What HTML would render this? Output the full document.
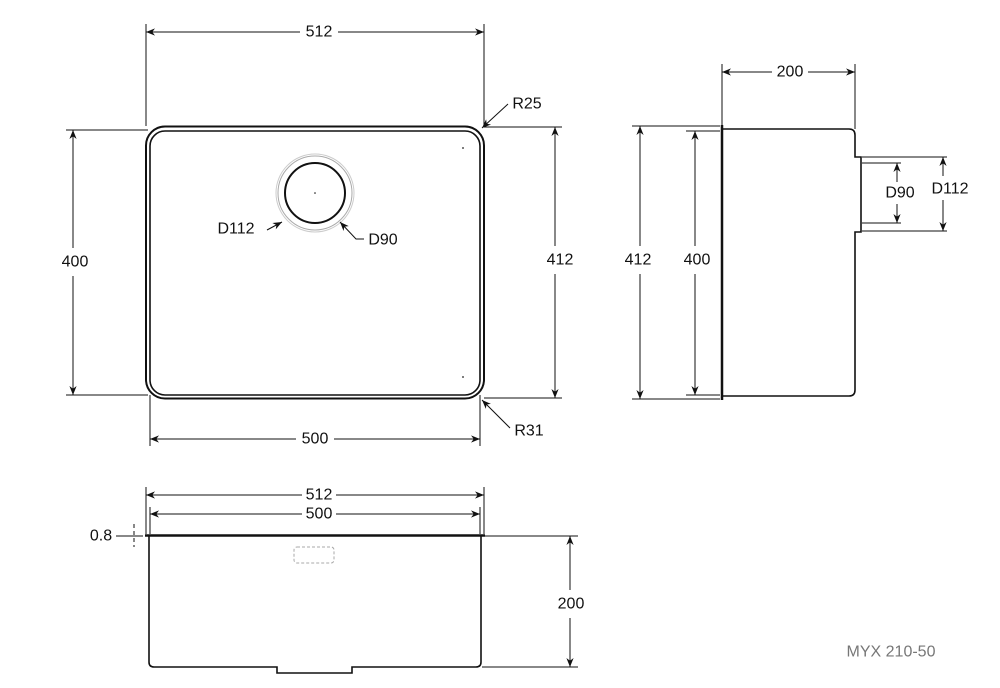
<!DOCTYPE html>
<html><head><meta charset="utf-8"><style>body{margin:0;background:#fff}svg{display:block}text{font-family:"Liberation Sans",Arial,sans-serif;font-size:16px;fill:#111}</style></head><body>
<svg width="1000" height="688" viewBox="0 0 1000 688" xmlns="http://www.w3.org/2000/svg">
<defs><marker id="a" viewBox="0 0 10 10" refX="10" refY="5" markerWidth="9" markerHeight="9" orient="auto-start-reverse" markerUnits="userSpaceOnUse"><path d="M0,1 L10,5 L0,9 L3,5 z" fill="#111"/></marker></defs>
<g stroke="#111" fill="none" stroke-width="1">
<rect x="146" y="126.5" width="338" height="272" rx="19" stroke-width="2"/>
<rect x="150" y="131" width="330" height="264" rx="15" stroke-width="1.6"/>
<circle cx="315" cy="193" r="30" stroke-width="2"/>
<circle cx="315" cy="193" r="37" stroke="#aaa"/>
<circle cx="315" cy="193" r="39" stroke="#ccc"/>
<line x1="146" y1="24" x2="146" y2="126"/><line x1="484" y1="24" x2="484" y2="126"/>
<line x1="146" y1="32" x2="300" y2="32" marker-start="url(#a)"/><line x1="338" y1="32" x2="484" y2="32" marker-end="url(#a)"/>
<line x1="66" y1="130" x2="148" y2="130"/><line x1="66" y1="395" x2="148" y2="395"/>
<line x1="73" y1="130" x2="73" y2="248" marker-start="url(#a)"/><line x1="73" y1="276" x2="73" y2="395" marker-end="url(#a)"/>
<line x1="484" y1="127" x2="562" y2="127"/><line x1="484" y1="398" x2="562" y2="398"/>
<line x1="555" y1="127" x2="555" y2="246" marker-start="url(#a)"/><line x1="555" y1="274" x2="555" y2="398" marker-end="url(#a)"/>
<line x1="150" y1="395" x2="150" y2="446"/><line x1="480" y1="395" x2="480" y2="446"/>
<line x1="150" y1="439" x2="296" y2="439" marker-start="url(#a)"/><line x1="334" y1="439" x2="480" y2="439" marker-end="url(#a)"/>
<line x1="508" y1="104" x2="482" y2="128" marker-end="url(#a)"/>
<line x1="510" y1="428" x2="482" y2="400" marker-end="url(#a)"/>
<line x1="267" y1="230" x2="282" y2="222" marker-end="url(#a)"/>
<polyline points="364,239 356,239 340,222" marker-end="url(#a)"/>
<line x1="722" y1="125" x2="722" y2="400" stroke-width="2.5"/>
<path d="M722,129 H849 Q855,129 855,135 V157 H861 V232 H855 V390 Q855,396 849,396 H722" stroke-width="1.6"/>
<line x1="722" y1="64" x2="722" y2="125"/><line x1="855" y1="64" x2="855" y2="129"/>
<line x1="722" y1="72" x2="772" y2="72" marker-start="url(#a)"/><line x1="808" y1="72" x2="855" y2="72" marker-end="url(#a)"/>
<line x1="632" y1="126" x2="720" y2="126"/><line x1="632" y1="399" x2="720" y2="399"/>
<line x1="640" y1="126" x2="640" y2="246" marker-start="url(#a)"/><line x1="640" y1="274" x2="640" y2="399" marker-end="url(#a)"/>
<line x1="686" y1="131" x2="720" y2="131"/><line x1="686" y1="395" x2="720" y2="395"/>
<line x1="695" y1="131" x2="695" y2="246" marker-start="url(#a)"/><line x1="695" y1="274" x2="695" y2="395" marker-end="url(#a)"/>
<line x1="862" y1="163" x2="901" y2="163"/><line x1="862" y1="223" x2="901" y2="223"/>
<line x1="897" y1="163" x2="897" y2="182" marker-start="url(#a)"/><line x1="897" y1="204" x2="897" y2="223" marker-end="url(#a)"/>
<line x1="862" y1="157" x2="947" y2="157"/><line x1="862" y1="231" x2="947" y2="231"/>
<line x1="943" y1="157" x2="943" y2="176" marker-start="url(#a)"/><line x1="943" y1="200" x2="943" y2="231" marker-end="url(#a)"/>
<line x1="145" y1="535.5" x2="485" y2="535.5" stroke-width="2.5"/>
<path d="M149,536 V662 Q149,667 154,667 H277 V673 H352 V667 H476 Q481,667 481,662 V536" stroke-width="1.6"/>
<rect x="294" y="547" width="40" height="16" rx="3" stroke="#aaa" stroke-dasharray="3,2"/>
<line x1="146" y1="487" x2="146" y2="534"/><line x1="484" y1="487" x2="484" y2="534"/>
<line x1="150" y1="507" x2="150" y2="534"/><line x1="480" y1="507" x2="480" y2="534"/>
<line x1="146" y1="495" x2="302" y2="495" marker-start="url(#a)"/><line x1="336" y1="495" x2="484" y2="495" marker-end="url(#a)"/>
<line x1="150" y1="514" x2="302" y2="514" marker-start="url(#a)"/><line x1="336" y1="514" x2="480" y2="514" marker-end="url(#a)"/>
<line x1="116" y1="536" x2="143" y2="536"/>
<line x1="134" y1="524" x2="134" y2="547" stroke-dasharray="4,3"/>
<line x1="485" y1="536" x2="578" y2="536"/><line x1="482" y1="667" x2="578" y2="667"/>
<line x1="570" y1="536" x2="570" y2="590" marker-start="url(#a)"/><line x1="570" y1="618" x2="570" y2="667" marker-end="url(#a)"/>
</g>
<circle cx="463" cy="148" r="1" fill="#555"/><circle cx="463" cy="377" r="1" fill="#555"/><circle cx="315" cy="193" r="0.8" fill="#111"/>
<g text-anchor="middle" dominant-baseline="central">
<text x="319" y="32">512</text><text x="75" y="262">400</text><text x="560" y="260">412</text><text x="315" y="439">500</text>
<text x="527" y="104">R25</text><text x="529" y="431">R31</text>
<text x="236" y="229">D112</text><text x="383" y="240">D90</text>
<text x="790" y="72">200</text><text x="638" y="260">412</text><text x="697" y="260">400</text>
<text x="900" y="193">D90</text><text x="950" y="189">D112</text>
<text x="319" y="495">512</text><text x="319" y="514">500</text><text x="101" y="536">0.8</text><text x="571" y="604">200</text>
<text x="891" y="652" style="fill:#777;font-size:16px">MYX 210-50</text>
</g>
</svg>
</body></html>
